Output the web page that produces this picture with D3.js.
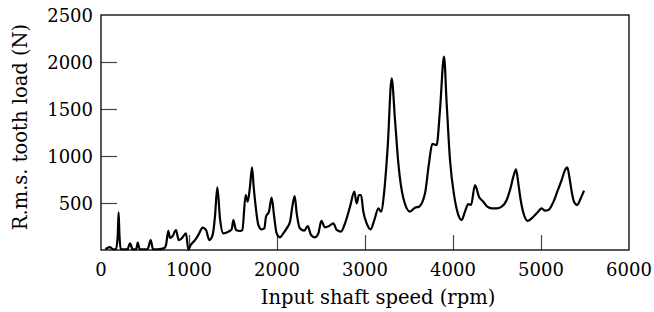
<!DOCTYPE html>
<html>
<head>
<meta charset="utf-8">
<script src="https://cdn.jsdelivr.net/npm/d3@7"></script>
<style>
  body { margin: 0; background: #fff; }
  .chart text { font-family: "DejaVu Serif", serif; font-size: 18px; fill: #000; }
  .chart text.title { font-size: 19.5px; }
  .frame { fill: none; stroke: #000; stroke-width: 1.3; }
  .tick line { stroke: #444; stroke-width: 1.2; }
  .curve { fill: none; stroke: #000; stroke-width: 2.2; stroke-linejoin: round; }
</style>
</head>
<body>
<svg class="chart"></svg>
<script>
// input shaft speed (rpm)
var speed = [50, 100, 140, 170, 190, 200, 210, 225, 300, 330, 360, 400, 417, 440, 530, 565, 590, 650, 720,
  740, 765, 784, 815, 852, 883, 917, 966, 992, 1019, 1068, 1106, 1156, 1193, 1231, 1269, 1295, 1322, 1352, 1390,
  1447, 1485, 1504, 1534, 1580, 1606, 1644, 1667, 1693, 1716, 1735, 1758, 1788, 1826, 1856, 1875, 1909, 1939, 1966,
  1996, 2034, 2072, 2110, 2148, 2174, 2201, 2224, 2261, 2311, 2349, 2386, 2432, 2470, 2504, 2545, 2591, 2640, 2678,
  2727, 2773, 2830, 2879, 2905, 2932, 2955, 2981, 3019, 3064, 3106, 3152, 3182, 3220, 3258, 3303, 3341, 3379, 3436,
  3511, 3568, 3614, 3682, 3727, 3765, 3814, 3852, 3898, 3928, 3966, 4015, 4061, 4098, 4136, 4174, 4205, 4250, 4295,
  4344, 4390, 4440, 4496, 4553, 4610, 4648, 4686, 4716, 4742, 4769, 4807, 4848, 4894, 4951, 5008, 5045, 5083, 5133,
  5185, 5235, 5273, 5299, 5322, 5349, 5375, 5413, 5443, 5489];
// r.m.s. tooth load (N)
var load = [8, 30, 8, 8, 150, 400, 150, 8, 8, 70, 8, 8, 80, 8, 10, 105, 10, 8, 20,
  60, 205, 128, 149, 213, 106, 124, 177, 5, 53, 106, 160, 237, 213, 106, 160, 354, 667, 337, 177,
  195, 220, 319, 213, 202, 213, 585, 514, 673, 880, 673, 461, 266, 220, 230, 354, 408, 557, 372,
  177, 135, 177, 230, 301, 461, 574, 390, 230, 206, 255, 160, 135, 177, 309, 241, 255, 284, 213,
  195, 284, 461, 620, 496, 585, 585, 408, 284, 220, 319, 443, 408, 638, 1099, 1826, 1383, 922, 550,
  408, 450, 461, 603, 922, 1128, 1117, 1489, 2057, 1560, 957, 567, 372, 319, 408, 489, 479, 691, 567,
  514, 461, 443, 443, 461, 532, 638, 780, 858, 709, 532, 372, 309, 337, 390, 443, 418, 425, 496,
  620, 745, 851, 880, 780, 620, 514, 479, 532, 631];

var xTicks = [0, 1000, 2000, 3000, 4000, 5000, 6000];
var yTicks = [500, 1000, 1500, 2000, 2500];

var margin = {top: 15, right: 25, bottom: 62, left: 101},
    width = 654 - margin.left - margin.right,
    height = 312 - margin.top - margin.bottom;

var svg = d3.select(".chart")
    .attr("width", 654)
    .attr("height", 312);

var g = svg.append("g")
    .attr("transform", "translate(" + margin.left + "," + margin.top + ")");

var x = d3.scaleLinear().domain([0, 6000]).range([0, width]);
var y = d3.scaleLinear().domain([0, 2500]).range([height, 0]);

// inward ticks, only on inner values
g.append("g")
    .attr("class", "x axis")
    .attr("transform", "translate(0," + height + ")")
    .call(d3.axisTop(x).tickValues(xTicks.slice(1, -1)).tickSize(15).tickFormat(""))
    .call(function(s) { s.select(".domain").remove(); });

g.append("g")
    .attr("class", "y axis")
    .call(d3.axisRight(y).tickValues(yTicks.slice(0, -1)).tickSize(16).tickFormat(""))
    .call(function(s) { s.select(".domain").remove(); });

g.selectAll(".xlab")
    .data(xTicks)
  .enter().append("text")
    .attr("class", "xlab")
    .attr("x", function(d) { return x(d); })
    .attr("y", height + 26)
    .style("text-anchor", "middle")
    .text(function(d) { return d; });

g.selectAll(".ylab")
    .data(yTicks)
  .enter().append("text")
    .attr("class", "ylab")
    .attr("x", -8)
    .attr("y", function(d) { return y(d); })
    .attr("dy", 6.5)
    .style("text-anchor", "end")
    .text(function(d) { return d; });

var line = d3.line()
    .x(function(d, i) { return x(speed[i]); })
    .y(function(d) { return y(d); })
    .curve(d3.curveMonotoneX);

g.append("path")
    .datum(load)
    .attr("class", "curve")
    .attr("d", line);

g.append("rect")
    .attr("class", "frame")
    .attr("width", width)
    .attr("height", height);

svg.append("text")
    .attr("class", "title")
    .attr("x", 378)
    .attr("y", 304)
    .style("text-anchor", "middle")
    .text("Input shaft speed (rpm)");

svg.append("text")
    .attr("class", "title")
    .attr("transform", "translate(27,127) rotate(-90)")
    .style("text-anchor", "middle")
    .text("R.m.s. tooth load (N)");
</script>
</body>
</html>
